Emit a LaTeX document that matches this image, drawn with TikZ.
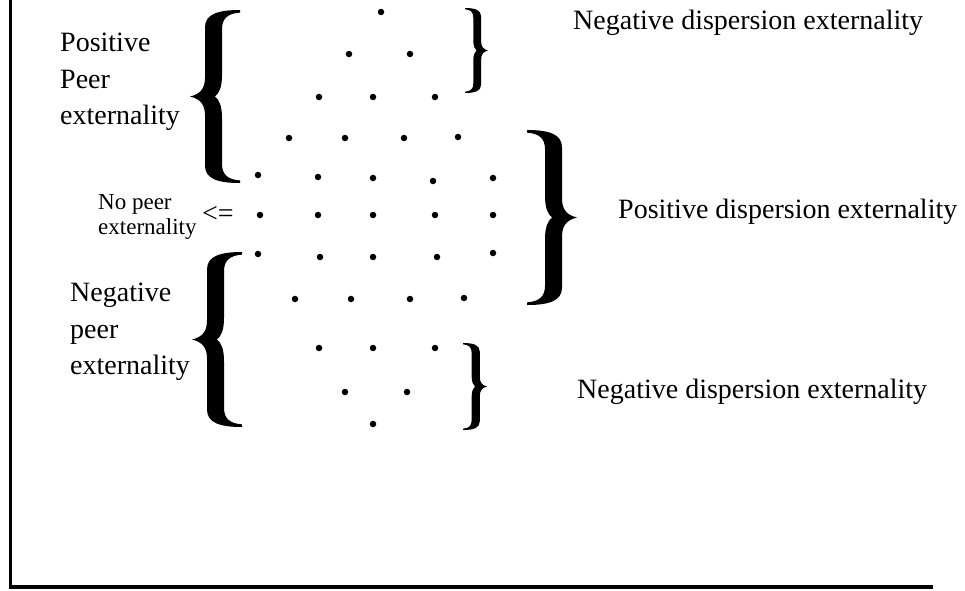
\documentclass[tikz,border=0pt]{standalone}
\usepackage{fontspec}
\setmainfont{Liberation Serif}
\begin{document}
\begin{tikzpicture}[x=1pt,y=-1pt,
  dot/.style={circle,fill=black,inner sep=0pt,minimum size=6.5pt},
  lbl/.style={inner sep=0pt,anchor=base west,font=\fontsize{28}{36.5}\selectfont},
  lbllines/.style={inner sep=0pt,anchor=north west,align=left,font=\fontsize{28}{36.5}\selectfont},
  smalllines/.style={inner sep=0pt,anchor=north west,align=left,font=\fontsize{23}{25}\selectfont},
  frameline/.style={line width=3.8pt,black},
  bracefill/.style={fill=black,draw=none}]
\useasboundingbox (0,0) rectangle (965,590);
% frame
\coordinate (ftop) at (10.5,0);
\coordinate (fcorner) at (10.5,587);
\coordinate (fright) at (933,587);
\draw[frameline] (ftop) -- (fcorner) -- (fright);
% brace shape (left brace, tip at origin, width 1, half height 1, y down)
\def\bracepath{(1,-1) .. controls (0.55,-1) and (0.30,-0.95) .. (0.30,-0.80)
 -- (0.30,-0.22) .. controls (0.30,-0.10) and (0.22,-0.03) .. (0,0)
 .. controls (0.22,0.03) and (0.30,0.10) .. (0.30,0.22)
 -- (0.30,0.80) .. controls (0.30,0.95) and (0.55,1) .. (1,1)
 -- (1,0.97) .. controls (0.75,0.96) and (0.64,0.90) .. (0.64,0.78)
 -- (0.64,0.25) .. controls (0.64,0.10) and (0.58,0.04) .. (0.5,0)
 .. controls (0.58,-0.04) and (0.64,-0.10) .. (0.64,-0.25)
 -- (0.64,-0.78) .. controls (0.64,-0.90) and (0.75,-0.96) .. (1,-0.97) -- cycle}
% left brace upper
\begin{scope}[shift={(190,96.5)},xscale=50,yscale=86.5]
  \fill[bracefill] \bracepath;
\end{scope}
% left brace lower
\begin{scope}[shift={(192,339.5)},xscale=50,yscale=87.5]
  \fill[bracefill] \bracepath;
\end{scope}
% right brace top small
\begin{scope}[shift={(488,50.5)},xscale=-23,yscale=42.5]
  \fill[bracefill] \bracepath;
\end{scope}
% right brace big
\begin{scope}[shift={(577,217.5)},xscale=-50,yscale=87.5]
  \fill[bracefill] \bracepath;
\end{scope}
% right brace bottom small
\begin{scope}[shift={(487,386.5)},xscale=-24,yscale=43.5]
  \fill[bracefill] \bracepath;
\end{scope}
% dots
\node[dot] (r1a) at (381,12) {};
\node[dot] (r2a) at (349,54) {};
\node[dot] (r2b) at (410,54) {};
\node[dot] (r3a) at (319,97) {};
\node[dot] (r3b) at (373,97) {};
\node[dot] (r3c) at (435,97) {};
\node[dot] (r4a) at (289,138) {};
\node[dot] (r4b) at (345,138) {};
\node[dot] (r4c) at (404,138) {};
\node[dot] (r4d) at (458,137) {};
\node[dot] (r5a) at (258,175) {};
\node[dot] (r5b) at (318,177) {};
\node[dot] (r5c) at (373,178) {};
\node[dot] (r5d) at (433,181) {};
\node[dot] (r5e) at (493,178) {};
\node[dot] (r6a) at (260,215) {};
\node[dot] (r6b) at (318,215) {};
\node[dot] (r6c) at (373,215) {};
\node[dot] (r6d) at (435,215) {};
\node[dot] (r6e) at (493,215) {};
\node[dot] (r7a) at (258,254) {};
\node[dot] (r7b) at (320,257) {};
\node[dot] (r7c) at (373,257) {};
\node[dot] (r7d) at (437,257) {};
\node[dot] (r7e) at (493,253) {};
\node[dot] (r8a) at (295,299) {};
\node[dot] (r8b) at (351,299) {};
\node[dot] (r8c) at (410,299) {};
\node[dot] (r8d) at (464,298) {};
\node[dot] (r9a) at (319,348) {};
\node[dot] (r9b) at (373,348) {};
\node[dot] (r9c) at (435,348) {};
\node[dot] (r10a) at (345,392) {};
\node[dot] (r10b) at (407,392) {};
\node[dot] (r11a) at (373,424) {};
% labels
\node[lbl] (negtop) at (573,29) {Negative dispersion externality};
\node[lbl] (posdisp) at (618,218) {Positive dispersion externality};
\node[lbl] (negbot) at (577,398) {Negative dispersion externality};
\node[lbllines] (pospeer) at (60,33) {Positive\\Peer\\externality};
\node[lbllines] (negpeer) at (70,283) {Negative\\peer\\externality};
\node[smalllines] (nopeer) at (98,194) {No peer\\externality};
\node[lbl] (arrowlbl) at (202,222) {<=};
\end{tikzpicture}
\end{document}
